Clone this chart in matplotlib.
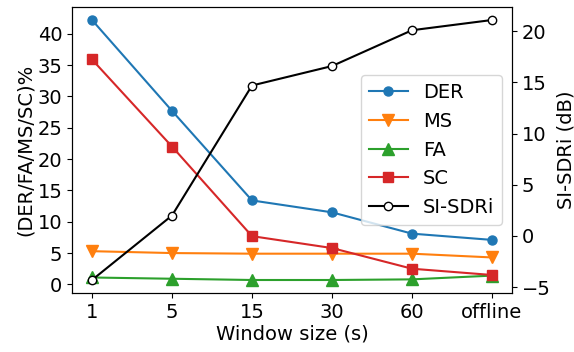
import matplotlib
matplotlib.use("Agg")
import matplotlib.pyplot as plt
from matplotlib.ticker import MultipleLocator

windows = ["1", "5", "15", "30", "60", "offline"]
der = [42.2, 27.7, 13.4, 11.5, 8.1, 7.1]
ms = [5.3, 5.0, 4.9, 4.9, 4.9, 4.3]
fa = [1.1, 0.9, 0.7, 0.7, 0.8, 1.4]
sc = [35.9, 22.0, 7.7, 5.8, 2.5, 1.5]
si_sdri = [-4.3, 2.0, 14.7, 16.6, 20.1, 21.1]

plt.rcParams["font.size"] = 14

fig = plt.figure(figsize=(5.74, 3.52), dpi=100)
ax = fig.add_axes([72 / 574, 59 / 352, 440 / 574, 286 / 352])
x = list(range(len(windows)))

h1, = ax.plot(x, der, marker="o", markersize=6.5, color="tab:blue", label="DER")
h2, = ax.plot(x, ms, marker="v", markersize=8.5, color="tab:orange", label="MS")
h3, = ax.plot(x, fa, marker="^", markersize=8.5, color="tab:green", label="FA")
h4, = ax.plot(x, sc, marker="s", markersize=7, color="tab:red", label="SC")
ax.set_xticks(x)
ax.set_xticklabels(windows)
ax.yaxis.set_major_locator(MultipleLocator(5))
ax.set_xlabel("Window size (s)", labelpad=2)
ax.set_ylabel("(DER/FA/MS/SC)%", labelpad=2)

ax2 = ax.twinx()
h5, = ax2.plot(x, si_sdri, marker="o", markersize=6, color="black",
               markerfacecolor="white", label="SI-SDRi")
ax2.set_ylabel("SI-SDRi (dB)", labelpad=4)

ax2.legend(handles=[h1, h2, h3, h4, h5], loc="center right")

fig.savefig("out.png", dpi=100)
